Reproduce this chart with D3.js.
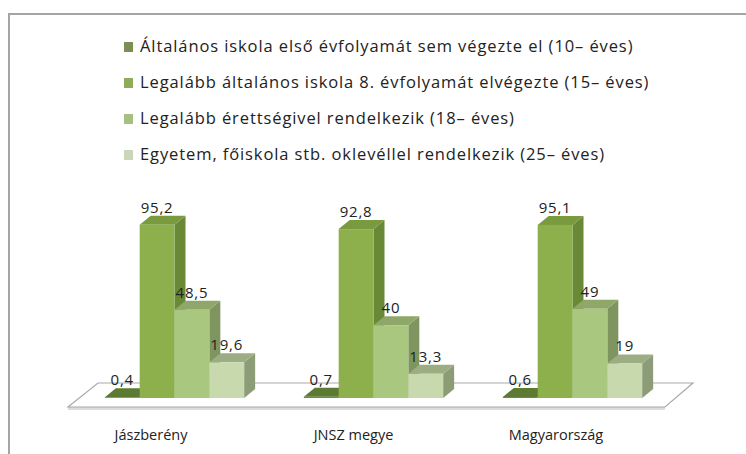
<!DOCTYPE html>
<html>
<head>
<meta charset="utf-8">
<script src="https://cdn.jsdelivr.net/npm/d3@7"></script>
<style>
    body { margin: 0; background: #fff; }
    text { font-family: "Open Sans", Lato, sans-serif; fill: #222; }
</style>
</head>
<body>
<div id="chart"></div>
<script>
// kategoriak dan seri
var categories = ["Jászberény", "JNSZ megye", "Magyarország"];
var seriesNames = [
    "Általános iskola első évfolyamát sem végezte el (10– éves)",
    "Legalább általános iskola 8. évfolyamát elvégezte (15– éves)",
    "Legalább érettségivel rendelkezik (18– éves)",
    "Egyetem, főiskola stb. oklevéllel rendelkezik (25– éves)"
];
var elso = [0.4, 0.7, 0.6];
var nyolcadik = [95.2, 92.8, 95.1];
var erettsegi = [48.5, 40, 49];
var oklevel = [19.6, 13.3, 19];
var valueLabels = [
    ["0,4", "95,2", "48,5", "19,6"],
    ["0,7", "92,8", "40", "13,3"],
    ["0,6", "95,1", "49", "19"]
];

var seriesValues = [elso, nyolcadik, erettsegi, oklevel];

// warna: depan, atas, samping
var colors = [
    { front: "#6a8a3c", top: "#5c7a32", side: "#4f6b2a", legend: "#7b8f55" },
    { front: "#8db04d", top: "#7a9a3f", side: "#6a8937", legend: "#8dad5a" },
    { front: "#aac77f", top: "#8fa768", side: "#7e955f", legend: "#a6c083" },
    { front: "#c8d9ae", top: "#9cad84", side: "#8c9c77", legend: "#cad6b8" }
];

var width = 746, height = 454;
var dx = 11, dy = -9;

var svg = d3.select("#chart").append("svg")
    .attr("width", width)
    .attr("height", height);

// bingkai
svg.append("path")
    .attr("d", "M9,454 L9,14 L760,14")
    .attr("fill", "none")
    .attr("stroke", "#a5a5a5")
    .attr("stroke-width", 2);

// skala
var x0 = d3.scaleBand()
    .domain(categories)
    .range([75, 672])
    .paddingInner(0.3)
    .paddingOuter(0.15);
var x1 = d3.scaleBand()
    .domain(d3.range(seriesNames.length))
    .range([0, x0.bandwidth()]);
var y = d3.scaleLinear()
    .domain([0, 100])
    .range([398, 216]);

// lantai
var r = x0.range();
var yf = y(0) + 9, yb = y(0) - 15;
svg.append("rect")
    .attr("x", r[0] - 7)
    .attr("y", yf)
    .attr("width", r[1] - r[0])
    .attr("height", 3)
    .attr("fill", "#dcdcdc");
svg.append("path")
    .attr("d", "M" + (r[0] - 7) + "," + yf + " L" + (r[1] - 7) + "," + yf +
        " L" + (r[1] + 21) + "," + yb + " L" + (r[0] + 23) + "," + yb + " Z")
    .attr("fill", "#fff")
    .attr("stroke", "#a9a9a9")
    .attr("stroke-width", 1.2);

// batang 3D
var bars = [];
categories.forEach(function (c, ci) {
    seriesValues.forEach(function (vals, si) {
        bars.push({ cat: c, ci: ci, si: si, value: vals[ci], label: valueLabels[ci][si] });
    });
});

var g = svg.selectAll(".bar")
    .data(bars)
    .enter().append("g")
    .attr("class", "bar");

g.each(function (d) {
    var el = d3.select(this);
    var xl = x0(d.cat) + x1(d.si);
    var xr = xl + x1.bandwidth();
    var yt = y(d.value);
    var yz = y(0);
    var c = colors[d.si];
    // samping
    el.append("path")
        .attr("d", "M" + xr + "," + yt + " L" + (xr + dx) + "," + (yt + dy) +
            " L" + (xr + dx) + "," + (yz + dy) + " L" + xr + "," + yz + " Z")
        .attr("fill", c.side);
    // atas
    el.append("path")
        .attr("d", "M" + xl + "," + yt + " L" + (xl + dx) + "," + (yt + dy) +
            " L" + (xr + dx) + "," + (yt + dy) + " L" + xr + "," + yt + " Z")
        .attr("fill", c.top);
    // depan
    el.append("rect")
        .attr("x", xl)
        .attr("y", yt)
        .attr("width", xr - xl)
        .attr("height", yz - yt)
        .attr("fill", c.front);
});

// label nilai
g.append("text")
    .attr("x", function (d) { return x0(d.cat) + x1(d.si) + x1.bandwidth() / 2; })
    .attr("y", function (d) { return y(d.value) + dy - 3; })
    .attr("text-anchor", "middle")
    .style("font-size", "15px")
    .style("letter-spacing", "0.8px")
    .text(function (d) { return d.label; });

// label kategori
var xl = d3.scalePoint()
    .domain(categories)
    .range([151, 556]);
svg.selectAll(".cat")
    .data(categories)
    .enter().append("text")
    .attr("class", "cat")
    .attr("x", function (d) { return xl(d); })
    .attr("y", 440)
    .attr("text-anchor", "middle")
    .style("font-size", "14.5px")
    .text(function (d) { return d; });

// legenda
var legend = svg.selectAll(".legend")
    .data(seriesNames)
    .enter().append("g")
    .attr("class", "legend")
    .attr("transform", function (d, i) { return "translate(124," + (47 + i * 36) + ")"; });
legend.append("rect")
    .attr("x", 0)
    .attr("y", -5)
    .attr("width", 9)
    .attr("height", 10)
    .attr("fill", function (d, i) { return colors[i].legend; });
legend.append("text")
    .attr("x", 16)
    .attr("y", 5)
    .style("font-size", "16.5px")
    .style("letter-spacing", "0.9px")
    .text(function (d) { return d; });
</script>
</body>
</html>
